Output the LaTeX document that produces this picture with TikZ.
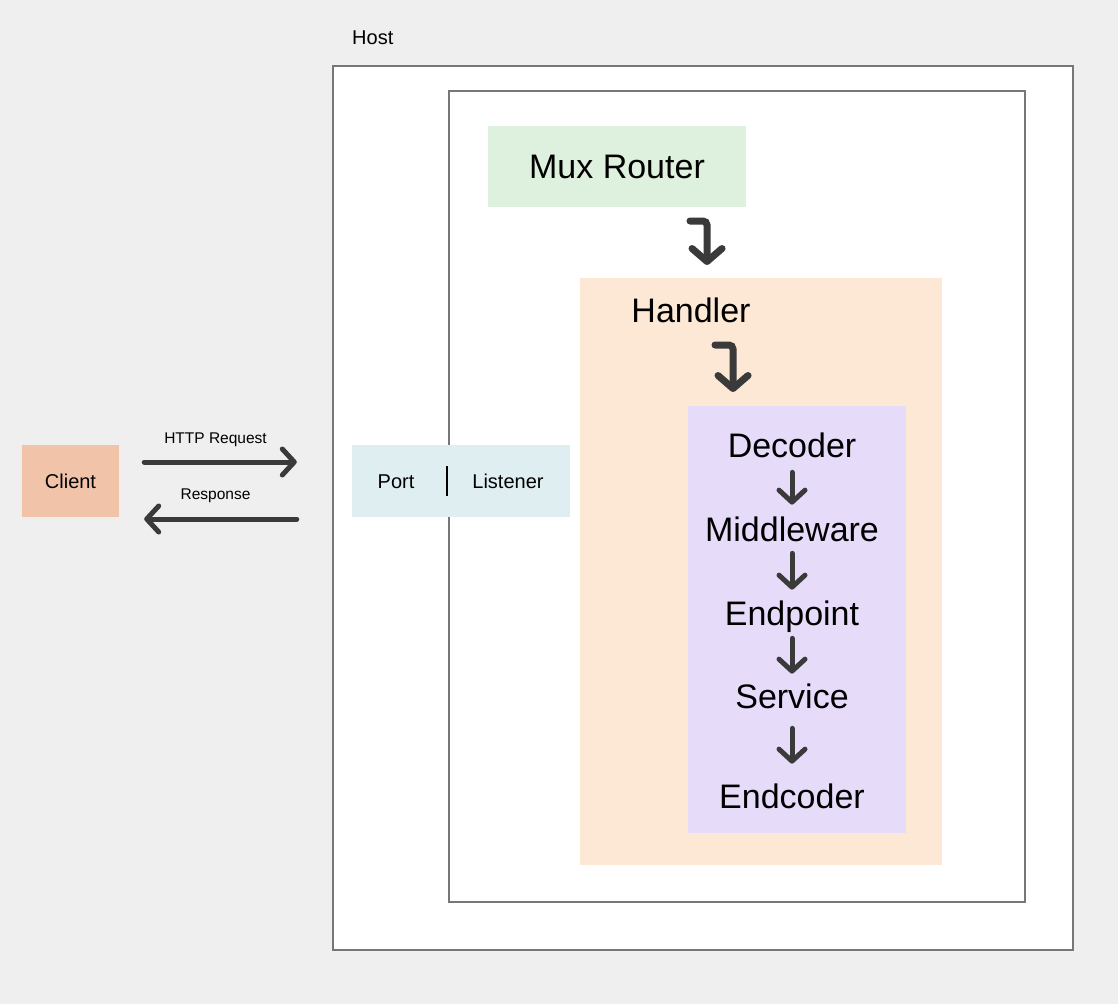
\documentclass[tikz,border=0pt]{standalone}
\usepackage{fontspec}
\setmainfont{Liberation Sans}
\usetikzlibrary{arrows.meta}

\definecolor{bggray}{HTML}{EFEFEF}
\definecolor{framegray}{HTML}{777777}
\definecolor{arrowgray}{HTML}{3A3A3A}
\definecolor{muxgreen}{HTML}{DEF0DE}
\definecolor{handlerpeach}{HTML}{FDE8D6}
\definecolor{chainlilac}{HTML}{E6DCFA}
\definecolor{clientsalmon}{HTML}{F1C4A9}
\definecolor{portblue}{HTML}{DFEEF1}

\begin{document}
\begin{tikzpicture}[x=1pt,y=-1pt,
  frame/.style={draw=framegray,line width=2pt,fill=white,inner sep=0pt},
  panel/.style={inner sep=0pt},
  big/.style={inner sep=0pt,text height=24.3pt,text depth=0pt,font=\fontsize{34}{40}\selectfont},
  mid/.style={inner sep=0pt,text height=14.3pt,text depth=0pt,font=\fontsize{20}{24}\selectfont},
  small/.style={inner sep=0pt,text height=11.1pt,text depth=0pt,font=\fontsize{15.5}{18}\selectfont},
  flow/.style={draw=arrowgray,line width=5pt,line cap=round,-{Straight Barb[round,length=12pt,width=26pt]}},
  turn/.style={draw=arrowgray,line width=7pt,line cap=round,rounded corners=4pt,-{Straight Barb[round,length=13pt,width=30pt]}}]
 \fill[bggray] (0,0) rectangle (1118,1004);
 \useasboundingbox (0,0) rectangle (1118,1004);

 % host and its frames
 \node[mid,anchor=west] (hostlabel) at (352,37) {Host};
 \node[frame,minimum width=740pt,minimum height=884pt] (host) at (703,508) {};
 \node[frame,minimum width=576pt,minimum height=811pt] (inner) at (737,496.5) {};

 % client side
 \node[panel,fill=clientsalmon,minimum width=97pt,minimum height=72pt,mid] (client) at (70.5,481) {Client};
 \node[panel,fill=portblue,minimum width=218pt,minimum height=72pt] (portbox) at (461,481) {};
 \node[mid] (port) at (396,481) {Port};
 \node[mid] (listener) at (508,481) {Listener};
 \draw[black,line width=2pt] (447,466) -- (447,496);

 \draw[flow,shorten <=25pt,shorten >=55pt] ([yshift=19pt]client.east) -- ([yshift=19pt]portbox.west)
   node[small,midway,yshift=24pt,xshift=-20pt] (req) {HTTP Request};
 \draw[flow,shorten <=55pt,shorten >=25pt] ([yshift=-38pt]portbox.west) -- ([yshift=-38pt]client.east)
   node[small,midway,yshift=25pt,xshift=-20pt] (resp) {Response};

 % router and handler
 \node[panel,fill=muxgreen,minimum width=258pt,minimum height=81pt,big] (mux) at (617,166.5) {Mux Router};
 \node[panel,fill=handlerpeach,minimum width=362pt,minimum height=587pt] (handlerbox) at (761,571.5) {};
 \node[big] (handler) at (691,310) {Handler};
 \node[panel,fill=chainlilac,minimum width=218pt,minimum height=427pt] (chain) at (797,619.5) {};

 \coordinate (muxout) at (690,221);
 \coordinate (handlerin) at (707,265);
 \draw[turn] (muxout) -| (handlerin);
 \coordinate (handlerout) at (715,345);
 \coordinate (chainin) at (733,392);
 \draw[turn] (handlerout) -| (chainin);

 % middleware chain
 \node[big] (decoder) at (792,445) {Decoder};
 \node[big] (middleware) at (792,529) {Middleware};
 \node[big] (endpoint) at (792,613) {Endpoint};
 \node[big] (service) at (792,696) {Service};
 \node[big] (endcoder) at (792,796) {Endcoder};

 \draw[flow,shorten <=15pt,shorten >=12pt] (decoder) -- (middleware);
 \draw[flow,shorten <=12pt,shorten >=11pt] (middleware) -- (endpoint);
 \draw[flow,shorten <=13pt,shorten >=10pt] (endpoint) -- (service);
 \draw[flow,shorten <=20pt,shorten >=20pt] (service) -- (endcoder);
\end{tikzpicture}
\end{document}
